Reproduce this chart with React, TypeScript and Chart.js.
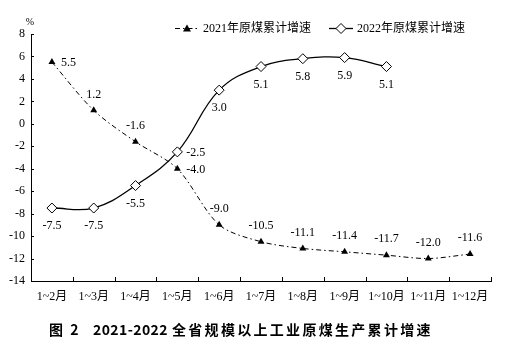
import { useEffect, useRef } from 'react';
import { Chart, registerables } from 'chart.js';

Chart.register(...registerables);

const categories = ['1~2月', '1~3月', '1~4月', '1~5月', '1~6月', '1~7月', '1~8月', '1~9月', '1~10月', '1~11月', '1~12月'];
const growth2021 = [5.5, 1.2, -1.6, -4.0, -9.0, -10.5, -11.1, -11.4, -11.7, -12.0, -11.6];
const growth2022 = [-7.5, -7.5, -5.5, -2.5, 3.0, 5.1, 5.8, 5.9, 5.1, null, null];
const seriesNames = ['2021年原煤累计增速', '2022年原煤累计增速'];
const labelSide2021 = ['right', 'above', 'above', 'right', 'above', 'above', 'above', 'above', 'above', 'above', 'above'];
const labelSide2022 = ['below', 'below', 'below', 'right', 'below', 'below', 'below', 'below', 'below', 'below', 'below'];
const yMin = -14;
const yMax = 8;
const yStep = 2;
const unitLabel = '%';
const titleParts = ['图 2', '2021-2022', '全省规模以上工业原煤生产累计增速'];

const SERIF = "'Liberation Serif', 'Times New Roman', Tinos, 'DejaVu Serif', 'Noto Sans CJK SC', serif";
const DASH_DOT = [5, 3, 1.5, 3];

const decorPlugin = {
  id: 'decor',
  afterDraw(chart: any) {
    const ctx: CanvasRenderingContext2D = chart.ctx;
    const xs = chart.scales.x;
    const ys = chart.scales.y;
    const { left, bottom, top } = chart.chartArea;
    ctx.save();
    ctx.strokeStyle = '#000';
    ctx.fillStyle = '#000';
    ctx.lineWidth = 1;

    // inward x ticks at category boundaries
    for (let i = 0; i <= categories.length; i++) {
      const px = Math.round(xs.getPixelForValue(i - 0.5)) + 0.5;
      ctx.beginPath();
      ctx.moveTo(px, bottom);
      ctx.lineTo(px, bottom - 4);
      ctx.stroke();
    }
    // inward y ticks
    ys.ticks.forEach((t: any) => {
      const py = Math.round(ys.getPixelForValue(t.value)) + 0.5;
      ctx.beginPath();
      ctx.moveTo(left, py);
      ctx.lineTo(left + 3, py);
      ctx.stroke();
    });

    // unit label
    ctx.font = `10px ${SERIF}`;
    ctx.textAlign = 'center';
    ctx.textBaseline = 'middle';
    ctx.fillText(unitLabel, left - 1, top - 12);

    // data labels
    ctx.font = `12px ${SERIF}`;
    const sides = [labelSide2021, labelSide2022];
    const values = [growth2021, growth2022];
    [0, 1].forEach((di) => {
      const meta = chart.getDatasetMeta(di);
      meta.data.forEach((el: any, i: number) => {
        const v = values[di][i];
        if (v === null || v === undefined) return;
        const txt = v.toFixed(1);
        const side = sides[di][i];
        if (side === 'right') {
          ctx.textAlign = 'left';
          ctx.fillText(txt, el.x + 9, el.y + 1);
        } else if (side === 'above') {
          ctx.textAlign = 'center';
          ctx.fillText(txt, el.x, el.y - 16);
        } else {
          ctx.textAlign = 'center';
          ctx.fillText(txt, el.x, el.y + 18);
        }
      });
    });

    // legend
    const ly = 28.5;
    ctx.textAlign = 'left';
    ctx.font = `12px ${SERIF}`;
    ctx.setLineDash(DASH_DOT);
    ctx.beginPath();
    ctx.moveTo(175, ly);
    ctx.lineTo(200, ly);
    ctx.stroke();
    ctx.setLineDash([]);
    ctx.beginPath();
    ctx.moveTo(187, ly - 4);
    ctx.lineTo(191, ly + 3);
    ctx.lineTo(183, ly + 3);
    ctx.closePath();
    ctx.fill();
    ctx.fillText(seriesNames[0], 203, ly);
    ctx.lineWidth = 1.3;
    ctx.beginPath();
    ctx.moveTo(329, ly);
    ctx.lineTo(353, ly);
    ctx.stroke();
    ctx.fillStyle = '#fff';
    ctx.beginPath();
    ctx.moveTo(341, ly - 5);
    ctx.lineTo(346, ly);
    ctx.lineTo(341, ly + 5);
    ctx.lineTo(336, ly);
    ctx.closePath();
    ctx.fill();
    ctx.lineWidth = 1;
    ctx.stroke();
    ctx.fillStyle = '#000';
    ctx.fillText(seriesNames[1], 357, ly);

    // title
    ctx.font = `bold 14px 'Noto Sans CJK SC', sans-serif`;
    ctx.textBaseline = 'middle';
    const ty = 330;
    (ctx as any).letterSpacing = '2px';
    ctx.fillText(titleParts[0], 49, ty);
    (ctx as any).letterSpacing = '0.4px';
    ctx.fillText(titleParts[1], 93, ty);
    (ctx as any).letterSpacing = '2.3px';
    ctx.fillText(titleParts[2], 172, ty);
    (ctx as any).letterSpacing = '0px';
    ctx.restore();
  },
};

export default function App() {
  const ref = useRef<HTMLCanvasElement | null>(null);
  useEffect(() => {
    if (!ref.current) return;
    const chart = new Chart(ref.current, {
      type: 'line',
      data: {
        labels: categories,
        datasets: [
          {
            label: seriesNames[0],
            data: growth2021,
            borderColor: '#000',
            backgroundColor: '#000',
            borderWidth: 1,
            borderDash: DASH_DOT,
            tension: 0.3,
            pointStyle: 'triangle',
            pointRadius: 4,
            pointBorderWidth: 0,
            pointBackgroundColor: '#000',
          },
          {
            label: seriesNames[1],
            data: growth2022,
            borderColor: '#000',
            backgroundColor: '#fff',
            borderWidth: 1.3,
            tension: 0.4,
            pointStyle: 'rectRot',
            pointRadius: 5,
            pointBorderWidth: 1,
            pointBackgroundColor: '#fff',
            pointBorderColor: '#000',
            spanGaps: false,
          },
        ],
      },
      options: {
        animation: false,
        responsive: true,
        maintainAspectRatio: false,
        layout: { padding: { top: 34, right: 24, left: 0, bottom: 0 } },
        plugins: {
          legend: { display: false },
          tooltip: { enabled: false },
        },
        scales: {
          x: {
            offset: true,
            grid: { display: false, drawTicks: false },
            border: { display: true, color: '#000', width: 1 },
            ticks: {
              color: '#000',
              font: { family: SERIF, size: 12 },
              padding: 9,
              maxRotation: 0,
              autoSkip: false,
            },
            afterFit: (s: any) => {
              s.height = 81;
            },
          },
          y: {
            min: yMin,
            max: yMax,
            grid: { display: false, drawTicks: false },
            border: { display: true, color: '#000', width: 1 },
            ticks: {
              stepSize: yStep,
              color: '#000',
              font: { family: SERIF, size: 12 },
              padding: 6,
            },
            afterFit: (s: any) => {
              s.width = 31;
            },
          },
        },
      },
      plugins: [decorPlugin],
    });
    return () => chart.destroy();
  }, []);
  return (
    <div style={{ position: 'fixed', left: 0, top: 0, width: 515, height: 362, background: '#fff' }}>
      <canvas ref={ref} />
    </div>
  );
}
